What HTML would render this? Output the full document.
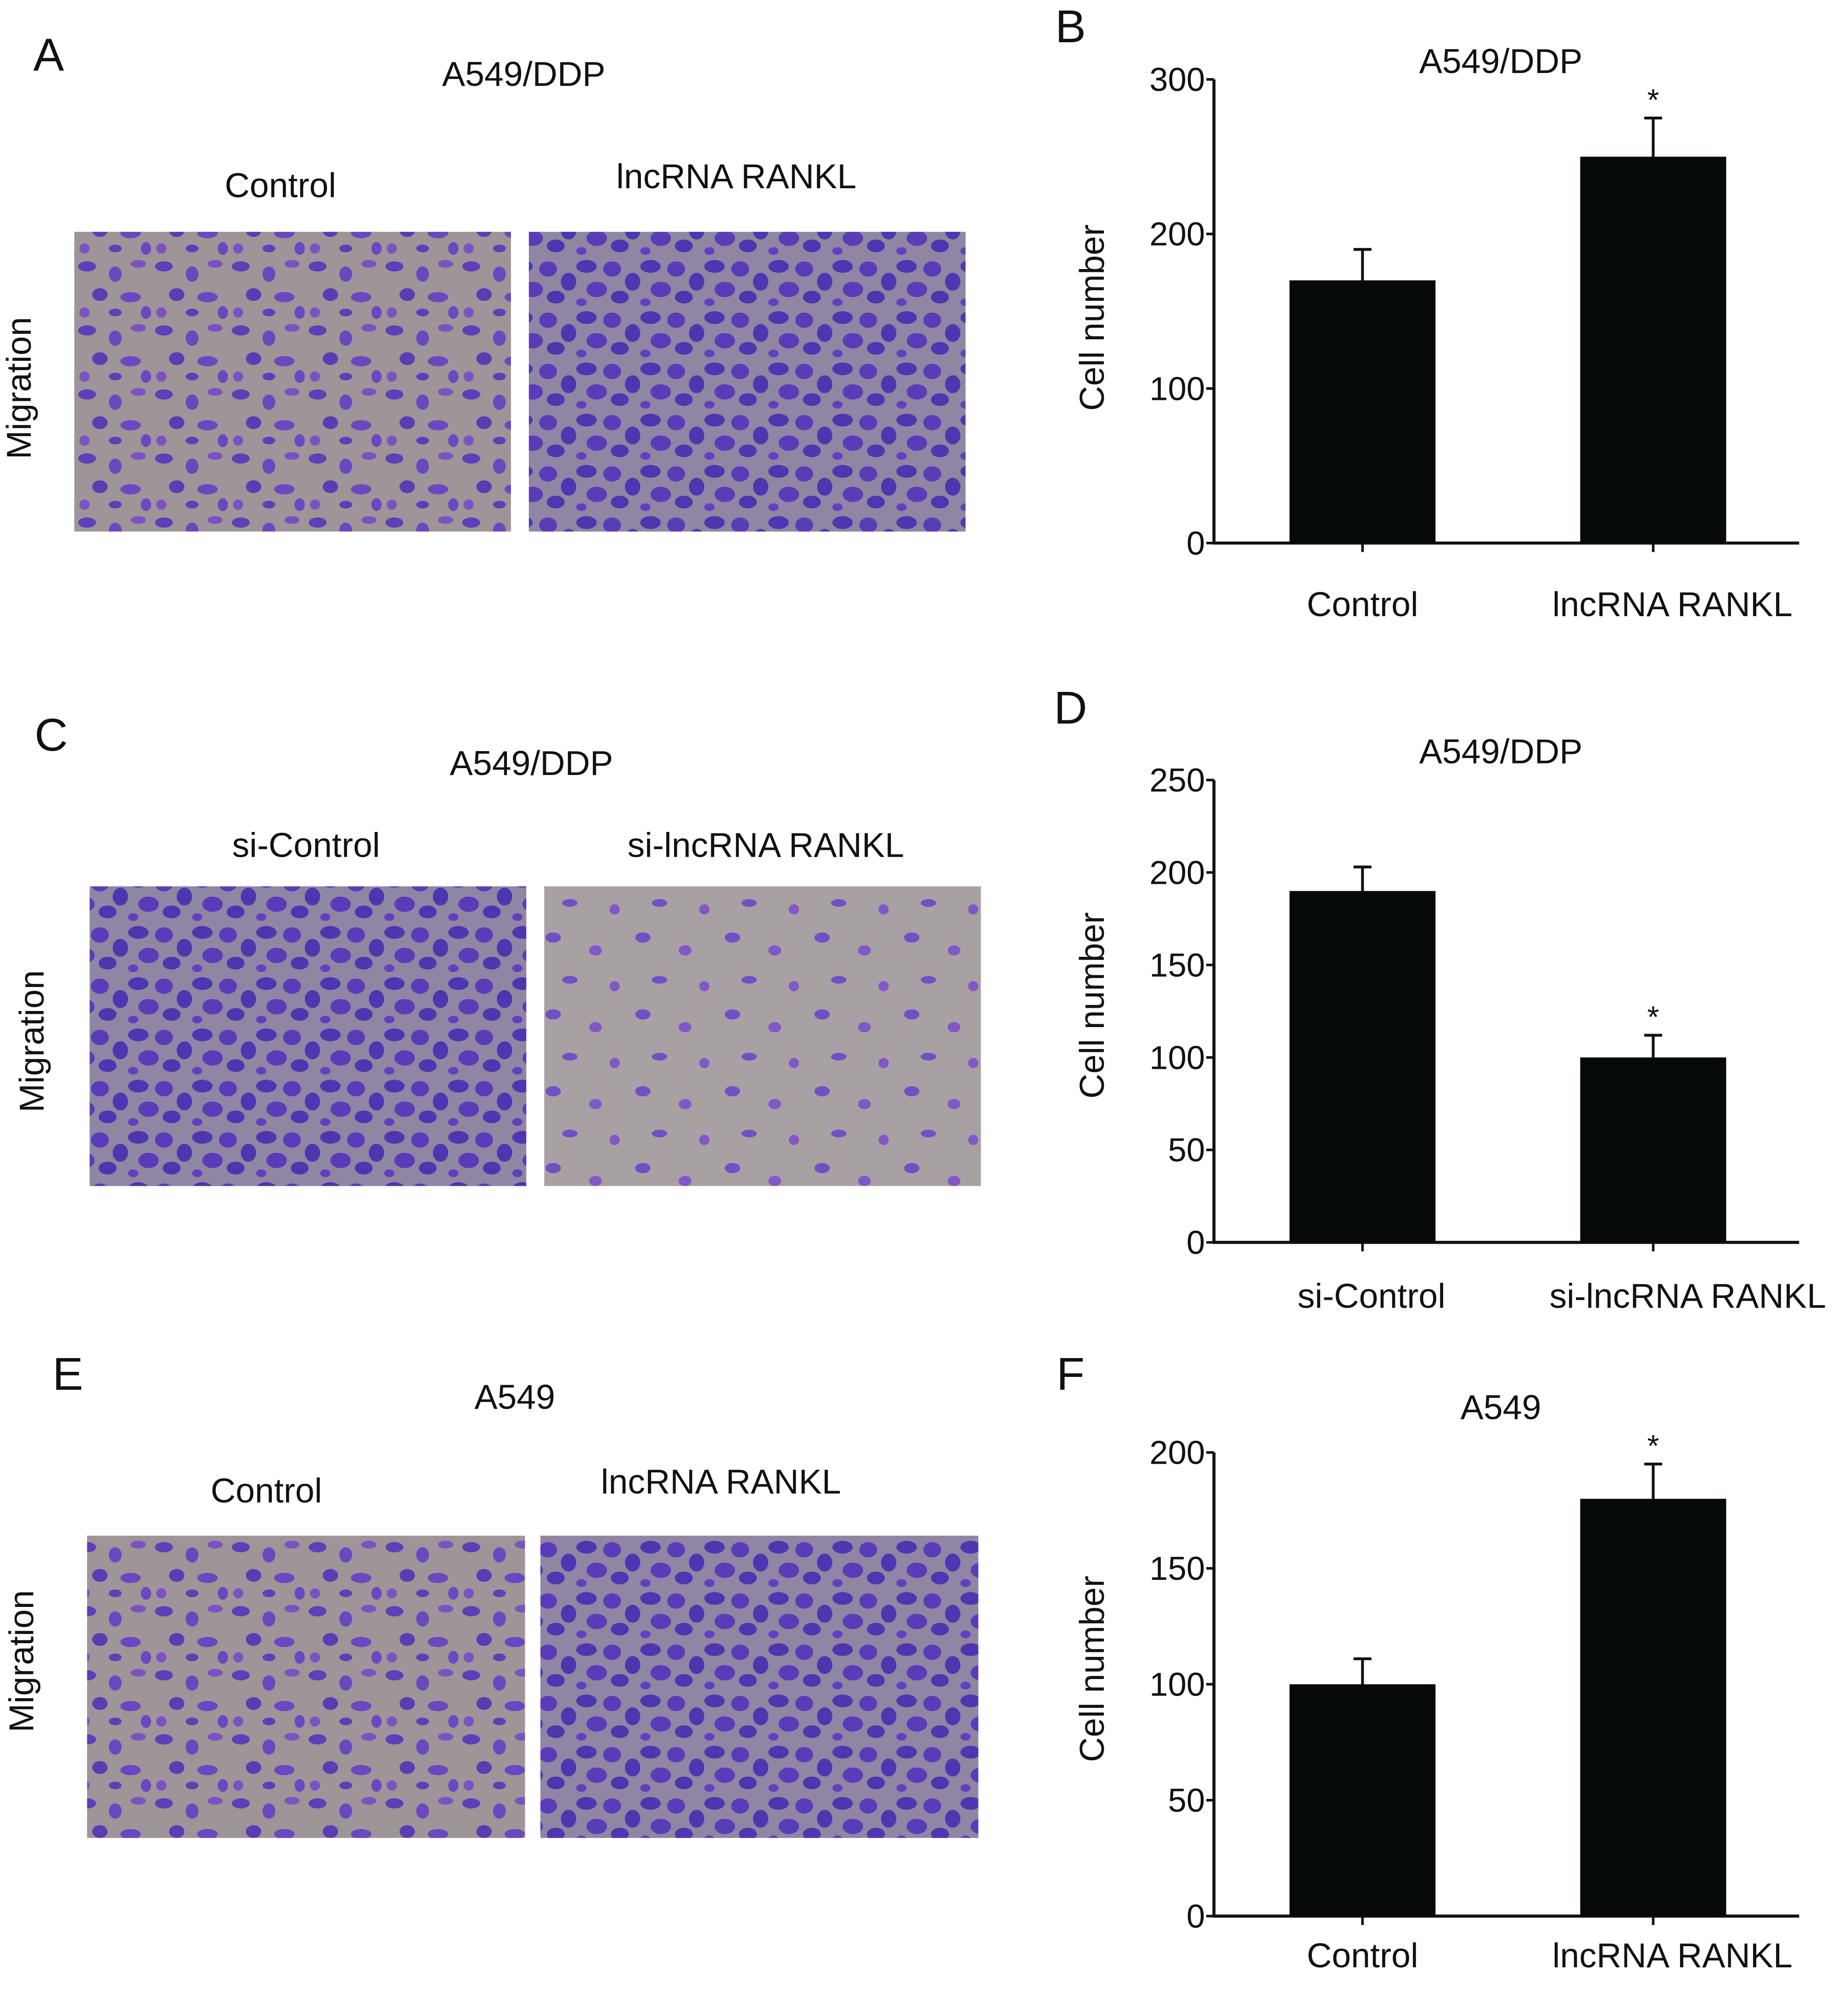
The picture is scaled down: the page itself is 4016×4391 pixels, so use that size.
<!DOCTYPE html>
<html><head><meta charset="utf-8"><style>
html,body{margin:0;padding:0;background:#fff}
svg{display:block}
text{font-family:"Liberation Sans",sans-serif;fill:#111}
</style></head><body>
<svg id="fig" width="4016" height="4391" viewBox="0 0 1440 1574" preserveAspectRatio="none" xmlns="http://www.w3.org/2000/svg">
<defs>
<pattern id="cellsA" width="60" height="50" patternUnits="userSpaceOnUse">
<rect width="60" height="50" fill="#9e9598"/>
<ellipse cx="8" cy="8" rx="7" ry="4" fill="#5e3fb8"/>
<ellipse cx="30" cy="14" rx="5" ry="6" fill="#6a48c0"/>
<ellipse cx="48" cy="6" rx="6" ry="3" fill="#7a52c4"/>
<ellipse cx="18" cy="30" rx="6" ry="5" fill="#5a3cb4"/>
<ellipse cx="42" cy="32" rx="8" ry="4" fill="#6a48c0"/>
<ellipse cx="6" cy="44" rx="4" ry="4" fill="#7a52c4"/>
<ellipse cx="30" cy="44" rx="5" ry="3" fill="#5e3fb8"/>
<ellipse cx="54" cy="44" rx="4" ry="5" fill="#6a48c0"/>
</pattern>
<pattern id="cellsB" width="50" height="40" patternUnits="userSpaceOnUse">
<rect width="50" height="40" fill="#8f86a4"/>
<ellipse cx="8" cy="8" rx="8" ry="5" fill="#4f36b0"/>
<ellipse cx="28" cy="10" rx="7" ry="6" fill="#5a3cb8"/>
<ellipse cx="44" cy="20" rx="6" ry="7" fill="#4f36b0"/>
<ellipse cx="16" cy="26" rx="8" ry="6" fill="#5a3cb8"/>
<ellipse cx="34" cy="32" rx="7" ry="5" fill="#4f36b0"/>
<ellipse cx="4" cy="36" rx="4" ry="3" fill="#6040c0"/>
</pattern>
<pattern id="cellsC" width="70" height="60" patternUnits="userSpaceOnUse">
<rect width="70" height="60" fill="#a8a1a4"/>
<ellipse cx="12" cy="12" rx="6" ry="4" fill="#7050c4"/>
<ellipse cx="45" cy="22" rx="5" ry="4" fill="#8058c8"/>
<ellipse cx="25" cy="45" rx="6" ry="3" fill="#7050c4"/>
<ellipse cx="60" cy="50" rx="4" ry="4" fill="#8058c8"/>
</pattern>
</defs>
<g id="layer"></g>
</svg>
<script>
// ---- chart data ----
const catsB = ["Control", "lncRNA RANKL"];
const valsB = [170, 250];
const errsB = [190, 275];
const ticksB = [0, 100, 200, 300];

const catsD = ["si-Control", "si-lncRNA RANKL"];
const valsD = [190, 100];
const errsD = [203, 112];
const ticksD = [0, 50, 100, 150, 200, 250];

const catsF = ["Control", "lncRNA RANKL"];
const valsF = [100, 180];
const errsF = [111, 195];
const ticksF = [0, 50, 100, 150, 200];

const NS = "http://www.w3.org/2000/svg";
const layer = document.getElementById("layer");
function mk(tag, attrs, parent) {
  const e = document.createElementNS(NS, tag);
  for (const k in attrs) e.setAttribute(k, attrs[k]);
  (parent || layer).appendChild(e);
  return e;
}
function txt(s, x, y, size, anchor, parent, rot) {
  const t = mk("text", {x: x, y: y, "font-size": size, "text-anchor": anchor || "middle"}, parent);
  if (rot) t.setAttribute("transform", "rotate(-90 " + x + " " + y + ")");
  t.textContent = s;
  return t;
}

// ---- micrograph panels ----
function panel(letter, lx, ly, title, tx, ty, lab1, l1x, l1y, lab2, l2x, l2y, migX, migY, img1, img2, imgY, imgH, f1, f2, key) {
  const g = mk("g", {});
  
  
  let t = txt(letter, lx, ly, 36, "middle", g);
  
  
  t = txt(title, tx, ty, 27, "middle", g);
  
  
  t = txt(lab1, l1x, l1y, 27, "middle", g);
  
  
  t = txt(lab2, l2x, l2y, 27, "middle", g);
  
  
  t = txt("Migration", migX, migY, 27, "middle", g, true);
  
  
  let r = mk("rect", {x: img1[0], y: imgY, width: img1[1] - img1[0], height: imgH, fill: "url(#" + f1 + ")"}, g);
  
  
  r = mk("rect", {x: img2[0], y: imgY, width: img2[1] - img2[0], height: imgH, fill: "url(#" + f2 + ")"}, g);
  
  
}
panel("A", 38, 55, "A549/DDP", 409, 67, "Control", 219, 154, "lncRNA RANKL", 575, 147, 24, 303, [58, 399], [413, 754], 181, 234, "cellsA", "cellsB", "a");
panel("C", 40, 586, "A549/DDP", 415, 605, "si-Control", 239, 669, "si-lncRNA RANKL", 598, 669, 34, 813, [70, 411], [425, 766], 692, 234, "cellsB", "cellsC", "c");
panel("E", 53, 1085, "A549", 402, 1100, "Control", 208, 1173, "lncRNA RANKL", 563, 1166, 26, 1297, [68, 410], [422, 764], 1199, 236, "cellsA", "cellsB", "e");

// ---- bar charts ----
function chart(key, letter, letterY, title, titleY, cats, vals, errs, ticks, y0px, ytopPx, catLabelY, ylabY) {
  const g = mk("g", {});
  
  
  const axX = 948, xEnd = 1405;
  const ymax = ticks[ticks.length - 1];
  const yScale = v => y0px - (v / ymax) * (y0px - ytopPx);
  const centers = [1064, 1291];
  const bw = 114;
  let t = txt(letter, 836, letterY, 36, "middle", g);
  
  
  t = txt(title, 1172, titleY, 27, "middle", g);
  
  
  t = txt("Cell number", 862, ylabY, 27, "middle", g, true);
  
  
  let ln = mk("line", {x1: axX, y1: yScale(ymax), x2: axX, y2: y0px, stroke: "#111", "stroke-width": 2.4}, g);
  
  
  ln = mk("line", {x1: axX - 1, y1: y0px, x2: xEnd, y2: y0px, stroke: "#111", "stroke-width": 2.4}, g);
  
  
  ticks.forEach(v => {
    const y = yScale(v);
    const tk = mk("line", {x1: axX - 6, y1: y, x2: axX, y2: y, stroke: "#111", "stroke-width": 2}, g);
    
    
    const tl = txt(String(v), axX - 7, y + 9, 26, "end", g);
    
    
  });
  cats.forEach((c, i) => {
    const cx = centers[i];
    const tk = mk("line", {x1: cx, y1: y0px, x2: cx, y2: y0px + 7, stroke: "#111", "stroke-width": 2}, g);
    
    
    const b = mk("rect", {x: cx - bw / 2, y: yScale(vals[i]), width: bw, height: y0px - yScale(vals[i]), fill: "#060b08"}, g);
    
    
    const e1 = mk("line", {x1: cx, y1: yScale(errs[i]), x2: cx, y2: yScale(vals[i]), stroke: "#111", "stroke-width": 2.2}, g);
    
    
    const e2 = mk("line", {x1: cx - 7, y1: yScale(errs[i]), x2: cx + 7, y2: yScale(errs[i]), stroke: "#111", "stroke-width": 2.2}, g);
    
    
    const cl = txt(c, cx + (i === 1 ? 15 : 0) + (key === "d" ? 7 : 0) + (key === "d" && i === 1 ? 5 : 0), catLabelY, 27, "middle", g);
    
    
  });
  const st = txt("*", centers[1], yScale(errs[1]) - 6, 24, "middle", g);
  
  
}
chart("b", "B", 33, "A549/DDP", 57, catsB, valsB, errsB, ticksB, 424, 62, 481, 248);
chart("d", "D", 565, "A549/DDP", 596, catsD, valsD, errsD, ticksD, 970, 609, 1021, 785);
chart("f", "F", 1085, "A549", 1108, catsF, valsF, errsF, ticksF, 1496, 1134, 1536, 1303);
</script>
</body></html>
